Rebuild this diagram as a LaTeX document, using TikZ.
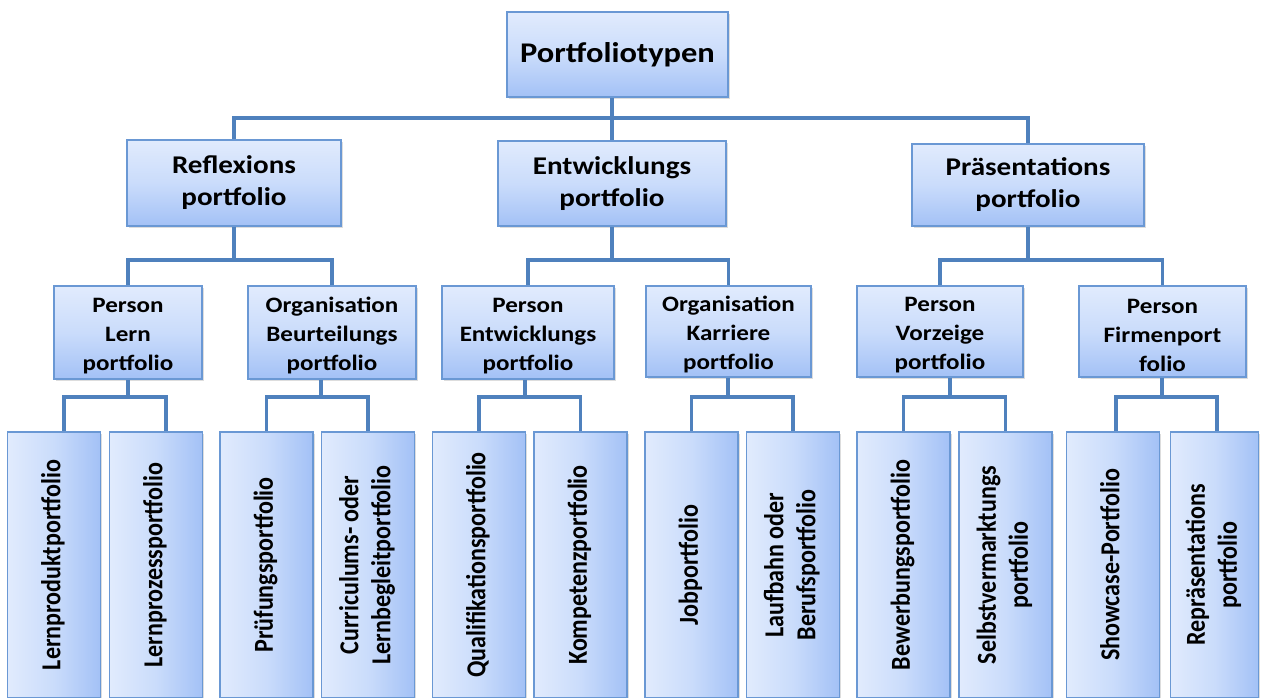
\documentclass[tikz,border=0pt]{standalone}
\usepackage{fontspec}
\usetikzlibrary{shadows}

% Carlito, widened for horizontal labels and narrowed for the rotated ones
\newfontfamily\hfont[FakeStretch=1.14]{Carlito}
\newfontfamily\vfont[FakeStretch=0.877]{Carlito}

\definecolor{boxtop}{HTML}{E1EBFD}
\definecolor{boxmid}{HTML}{CADCFB}
\definecolor{boxbot}{HTML}{A3C1F6}
\definecolor{boxline}{HTML}{6A98D4}
\definecolor{connline}{HTML}{4F81BD}

% rotated (bottom-to-top) label, one or more lines
\newcommand{\leaflabel}[1]{\rotatebox{90}{\begin{tabular}{@{}c@{}}#1\end{tabular}}}
% extra room above the first line of the third-level labels
\newcommand{\topgap}{\rule{0pt}{22pt}}

\tikzset{
  box/.style={draw=boxline, line width=1.6pt, inner sep=0pt, align=center, text=black,
    drop shadow={shadow xshift=1.5pt, shadow yshift=-2pt, opacity=0.22, fill=black!60}},
  vbox/.style={box, top color=boxtop, bottom color=boxbot, middle color=boxmid},
  rootbox/.style={vbox, font=\hfont\bfseries\fontsize{28.5}{34}\selectfont},
  lvltwo/.style={vbox, font=\hfont\bfseries\fontsize{25.5}{32}\selectfont},
  lvlthree/.style={vbox, font=\hfont\bfseries\fontsize{22}{29}\selectfont},
  leaf/.style={box, left color=boxtop, right color=boxbot, middle color=boxmid,
    font=\vfont\bfseries\fontsize{27.4}{32}\selectfont,
    minimum width=93pt, minimum height=266pt},
  conn/.style={draw=connline, line width=3.5pt}
}

\begin{document}
\begin{tikzpicture}[x=1pt, y=-1pt]
\fill[white] (0,0) rectangle (1261,697);
\useasboundingbox (0,0) rectangle (1261,697);

% root
\node[rootbox, minimum width=221pt, minimum height=85pt] (top) at (617.5,54.5) {Portfoliotypen};

% second level
\node[lvltwo, minimum width=214pt, minimum height=86pt] (refl)  at (234,183)   {Reflexions\\portfolio};
\node[lvltwo, minimum width=228pt, minimum height=85pt] (entw)  at (612,183.5) {Entwicklungs\\portfolio};
\node[lvltwo, minimum width=232pt, minimum height=82pt] (praes) at (1028,185)  {Präsentations\\portfolio};

% third level
\node[lvlthree, minimum width=148pt, minimum height=93pt] (plern) at (128,332.5)    {\topgap Person\\Lern\\portfolio};
\node[lvlthree, minimum width=168pt, minimum height=93pt] (obeur) at (332,332.5)    {\topgap Organisation\\Beurteilungs\\portfolio};
\node[lvlthree, minimum width=172pt, minimum height=93pt] (pentw) at (528,332.5)    {\topgap Person\\Entwicklungs\\portfolio};
\node[lvlthree, minimum width=165pt, minimum height=91pt] (okarr) at (728.5,331.5)  {\topgap Organisation\\Karriere\\portfolio};
\node[lvlthree, minimum width=166pt, minimum height=91pt] (pvorz) at (940,331.5)    {\topgap Person\\Vorzeige\\portfolio};
\node[lvlthree, minimum width=167pt, minimum height=91pt] (pfirm) at (1162.5,331.5) {\topgap Person\\Firmenport\\folio};

% leaves
\node[leaf] (l1)  at (54,565)     {\leaflabel{Lernproduktportfolio}};
\node[leaf] (l2)  at (156,565)    {\leaflabel{Lernprozessportfolio}};
\node[leaf] (l3)  at (266.5,565)  {\leaflabel{Prüfungsportfolio}};
\node[leaf] (l4)  at (368,565)    {\leaflabel{Curriculums- oder\\Lernbegleitportfolio}};
\node[leaf] (l5)  at (479,565)    {\leaflabel{Qualifikationsportfolio}};
\node[leaf] (l6)  at (580.5,565)  {\leaflabel{Kompetenzportfolio}};
\node[leaf] (l7)  at (691.5,565)  {\leaflabel{Jobportfolio}};
\node[leaf] (l8)  at (793,565)    {\leaflabel{Laufbahn oder\\Berufsportfolio}};
\node[leaf] (l9)  at (903.5,565)  {\leaflabel{Bewerbungsportfolio}};
\node[leaf] (l10) at (1005.5,565) {\leaflabel{Selbstvermarktungs\\portfolio}};
\node[leaf] (l11) at (1113,565)   {\leaflabel{Showcase-Portfolio}};
\node[leaf, minimum width=88pt] (l12) at (1214.5,565) {\leaflabel{Repräsentations\\portfolio}};

% root to second level
\coordinate (j0) at (612,118);
\draw[conn] (top.south -| j0) -- (j0);
\draw[conn] (refl.north) |- (j0) -| (praes.north);
\draw[conn] (j0) -- (entw.north);

% second to third level
\coordinate (j1) at (234,260);
\draw[conn] (refl.south) -- (j1);
\draw[conn] (plern.north) |- (j1) -| (obeur.north);
\coordinate (j2) at (612,260);
\draw[conn] (entw.south) -- (j2);
\draw[conn] (pentw.north) |- (j2) -| (okarr.north);
\coordinate (j3) at (1028,260);
\draw[conn] (praes.south) -- (j3);
\draw[conn] (pvorz.north) |- (j3) -| (pfirm.north);

% third level to leaves
\coordinate (k1) at (128,397);
\draw[conn] (plern.south -| k1) -- (k1);
\draw[conn] ([xshift=10pt]l1.north) |- (k1) -| ([xshift=10pt]l2.north);
\coordinate (k2) at (321,397);
\draw[conn] (obeur.south -| k2) -- (k2);
\draw[conn] (l3.north) |- (k2) -| (l4.north);
\coordinate (k3) at (525,397);
\draw[conn] (pentw.south -| k3) -- (k3);
\draw[conn] (l5.north) |- (k3) -| (l6.north);
\coordinate (k4) at (728,397);
\draw[conn] (okarr.south -| k4) -- (k4);
\draw[conn] (l7.north) |- (k4) -| (l8.north);
\coordinate (k5) at (950,397);
\draw[conn] (pvorz.south -| k5) -- (k5);
\draw[conn] (l9.north) |- (k5) -| (l10.north);
\coordinate (k6) at (1162,397);
\draw[conn] (pfirm.south -| k6) -- (k6);
\draw[conn] ([xshift=3pt]l11.north) |- (k6) -| ([xshift=2.5pt]l12.north);
\end{tikzpicture}
\end{document}
